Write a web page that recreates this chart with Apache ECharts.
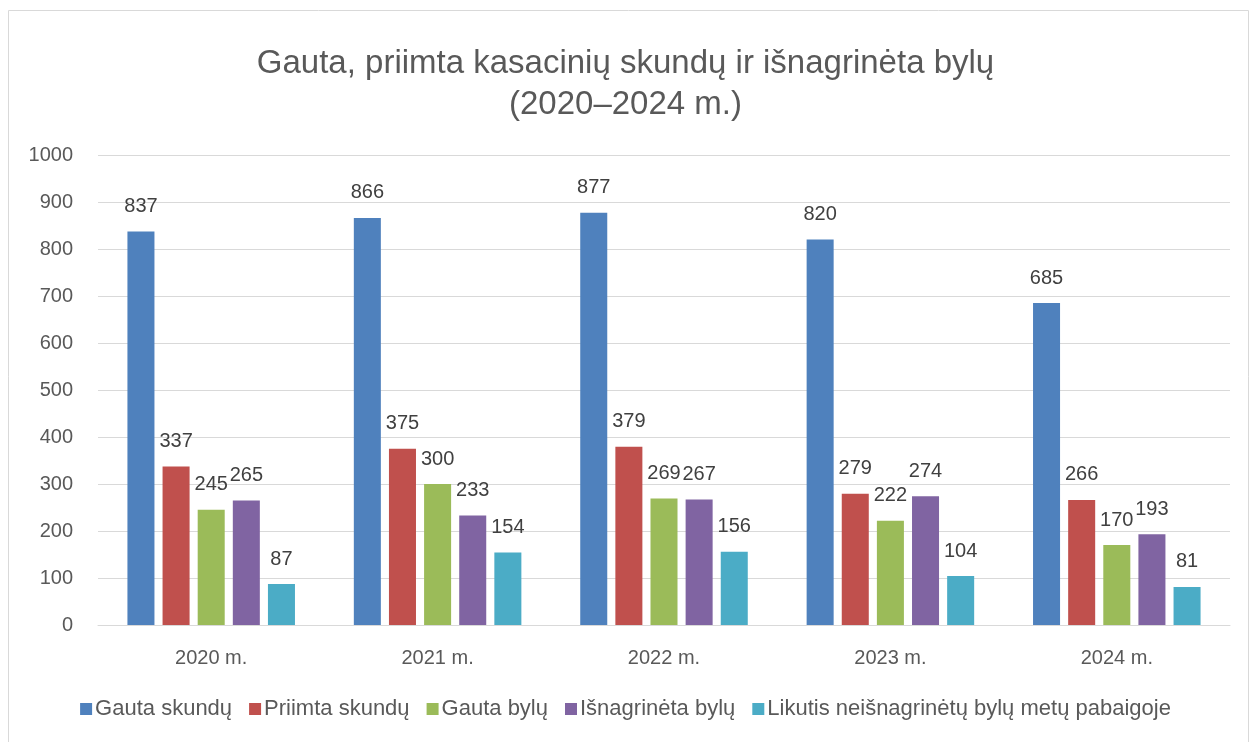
<!DOCTYPE html>
<html><head><meta charset="utf-8">
<script src="https://cdn.jsdelivr.net/npm/echarts@6/dist/echarts.min.js"></script>
<style>html,body{margin:0;padding:0;background:#fff}#c{width:1251px;height:742px}</style>
</head><body><div id="c"></div>
<script>
const categories = ['2020 m.', '2021 m.', '2022 m.', '2023 m.', '2024 m.'];
const seriesNames = ['Gauta skundų', 'Priimta skundų', 'Gauta bylų', 'Išnagrinėta bylų', 'Likutis neišnagrinėtų bylų metų pabaigoje'];
const gautaSkundu = [837, 866, 877, 820, 685];
const priimtaSkundu = [337, 375, 379, 279, 266];
const gautaBylu = [245, 300, 269, 222, 170];
const isnagrinetaBylu = [265, 233, 267, 274, 193];
const likutis = [87, 154, 156, 104, 81];
const colors = ['#4f81bd', '#c0504d', '#9bbb59', '#8064a2', '#4bacc6'];
const values = [gautaSkundu, priimtaSkundu, gautaBylu, isnagrinetaBylu, likutis];
const font = 'Liberation Sans, Arial, sans-serif';

const chart = echarts.init(document.getElementById('c'));
chart.setOption({
  animation: false,
  graphic: [{type:'rect', shape:{x:8.5,y:10.5,width:1240,height:740}, style:{fill:'none', stroke:'#d9d9d9', lineWidth:1}, silent:true}],
  title: {
    text: 'Gauta, priimta kasacinių skundų ir išnagrinėta bylų\n(2020–2024 m.)',
    left: 'center', top: 38,
    textStyle: {fontFamily: font, fontSize: 33, fontWeight: 'normal', color: '#595959', lineHeight: 41}
  },
  legend: {
    bottom: 17, left: 'center', itemWidth: 12, itemHeight: 12, itemGap: 17,
    icon: 'rect',
    textStyle: {fontFamily: font, fontSize: 22, color: '#595959', padding: [0,0,0,-2]},
    data: seriesNames
  },
  grid: {left: 98, right: 21, top: 155, bottom: 117},
  xAxis: {
    type: 'category', data: categories,
    axisLine: {lineStyle: {color: '#d9d9d9'}}, axisTick: {show: false},
    axisLabel: {fontFamily: font, fontSize: 20, color: '#595959', margin: 23}
  },
  yAxis: {
    type: 'value', min: 0, max: 1000, interval: 100,
    axisLine: {show: false}, axisTick: {show: false},
    splitLine: {lineStyle: {color: '#d9d9d9'}},
    axisLabel: {fontFamily: font, fontSize: 20, color: '#595959', margin: 25, formatter: v => String(v)}
  },
  series: values.map((v, i) => ({
    name: seriesNames[i], type: 'bar', data: v,
    barGap: '30%', barCategoryGap: '26%',
    itemStyle: {color: colors[i]},
    label: {show: true, position: 'top', distance: 15, fontFamily: font, fontSize: 20, color: '#404040'}
  }))
});
</script></body></html>
